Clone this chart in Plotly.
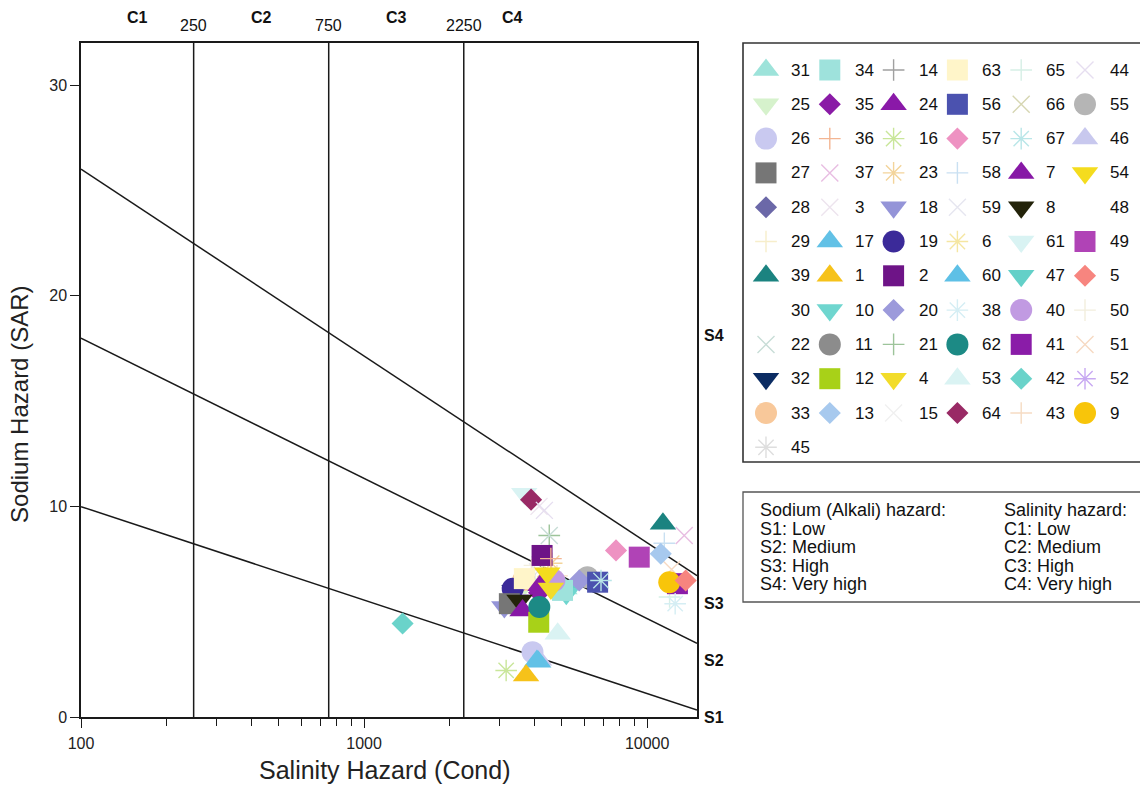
import math
import plotly.graph_objects as go

# ---------------------------------------------------------------- data
# Samples in drawing order (back to front)
sample_id = [30, 48, 3, 15, 59, 66, 14, 29, 50, 43,
             6, 23, 45, 25, 33, 32, 11, 28, 35, 52,
             31, 47, 10, 51, 65, 58, 61, 64, 44, 21,
             22, 2, 36, 19, 63, 55, 20, 56, 67, 34,
             40, 24, 54, 4, 18, 27, 8, 7, 12, 62,
             53, 26, 46, 60, 17, 16, 1, 42, 39, 37,
             57, 49, 13, 41, 9, 5, 38]

# Electrical conductivity (uS/cm)
ec = [4300, 4600, 4150, 4400, 4100, 4300, 4000, 3900, 4000, 4800,
      4350, 4600, 4250, 3700, 3650, 3400, 3350, 3300, 4150, 3500,
      5100, 5150, 5180, 12200, 12000, 11500, 3680, 3890, 4335, 4510,
      4510, 4254, 4570, 3350, 3683, 6150, 5754, 6683, 6870, 5024,
      4700, 4200, 4436, 4570, 3130, 3260, 3540, 3630, 4140, 4160,
      4830, 3935, 4150, 4120, 4080, 3176, 3734, 1368, 11370, 13520,
      7762, 9376, 11170, 12790, 11970, 13680, 12560]

# Sodium adsorption ratio
sar = [6.0, 6.2, 10.0, 6.7, 6.9, 6.1, 6.3, 7.0, 7.2, 6.7,
       7.0, 7.3, 7.6, 6.3, 6.5, 6.0, 5.5, 5.6, 5.9, 5.8,
       6.1, 6.0, 5.85, 7.0, 5.7, 8.25, 10.6, 10.32, 9.81, 8.62,
       8.62, 7.67, 7.52, 6.09, 6.57, 6.64, 6.48, 6.40, 6.48, 6.01,
       6.48, 6.25, 6.82, 6.10, 5.22, 5.38, 5.53, 5.06, 4.50, 5.22,
       3.95, 3.08, 2.72, 2.62, 2.66, 2.21, 1.97, 4.44, 9.18, 8.62,
       7.91, 7.59, 7.75, 6.33, 6.40, 6.48, 5.38]

# Key entries, read row by row (6 per row)
legend_order = [31, 34, 14, 63, 65, 44,
                25, 35, 24, 56, 66, 55,
                26, 36, 16, 57, 67, 46,
                27, 37, 23, 58, 7, 54,
                28, 3, 18, 59, 8, 48,
                29, 17, 19, 6, 61, 49,
                39, 1, 2, 60, 47, 5,
                30, 10, 20, 38, 40, 50,
                22, 11, 21, 62, 41, 51,
                32, 12, 4, 53, 42, 52,
                33, 13, 15, 64, 43, 9,
                45]

# USSL sodium-hazard boundaries: SAR = a - b*log10(EC)
s_intercept = [18.87, 31.31, 43.75]
s_slope = [4.44, 6.66, 8.87]
# Salinity-hazard class limits
c_limits = [250, 750, 2250]
c_labels = ["C1", "C2", "C3", "C4"]
s_labels = ["S1", "S2", "S3", "S4"]
s_label_sar = [0.0, 2.7, 5.4, 18.1]
ec_min, ec_max = 100, 15000
sar_max = 32

# ---------------------------------------------------------------- styles
TRANSPARENT = "rgba(255,255,255,0)"
style = {
    1: ("triangle-up", "#F6C21A"), 2: ("square", "#6E1487"),
    3: ("x-thin", "#EDE4EE"), 4: ("triangle-down", "#F2DC2A"),
    5: ("diamond", "#F7857F"), 6: ("asterisk", "#F5E6A2"),
    7: ("triangle-up", "#8718A6"), 8: ("triangle-down", "#23230A"),
    9: ("circle", "#F8C50A"), 10: ("triangle-down", "#6FD6CF"),
    11: ("circle", "#8C8C8C"), 12: ("square", "#A8D118"),
    13: ("diamond", "#A7C9EE"), 14: ("cross-thin", "#A0A0A0"),
    15: ("x-thin", "#F0F0F0"), 16: ("asterisk", "#C9E69A"),
    17: ("triangle-up", "#62C1E6"), 18: ("triangle-down", "#9494D8"),
    19: ("circle", "#3B2A99"), 20: ("diamond", "#9C9ADB"),
    21: ("cross-thin", "#9DC49A"), 22: ("x-thin", "#C8DDD7"),
    23: ("asterisk", "#F3D49A"), 24: ("triangle-up", "#8A19A8"),
    25: ("triangle-down", "#D6F2CC"), 26: ("circle", "#C9C9F0"),
    27: ("square", "#767676"), 28: ("diamond", "#6B68A8"),
    29: ("cross-thin", "#F7EECB"), 30: ("circle", TRANSPARENT),
    31: ("triangle-up", "#9DE3DA"), 32: ("triangle-down", "#0B2C63"),
    33: ("circle", "#F8C89A"), 34: ("square", "#9EE2DC"),
    35: ("diamond", "#8A1BA6"), 36: ("cross-thin", "#F3B592"),
    37: ("x-thin", "#E8BDE2"), 38: ("asterisk", "#D5EEF4"),
    39: ("triangle-up", "#1B8380"), 40: ("circle", "#C19AE2"),
    41: ("square", "#8A1CA8"), 42: ("diamond", "#6AD3CA"),
    43: ("cross-thin", "#F6DCC3"), 44: ("x-thin", "#E6DEF0"),
    45: ("asterisk", "#DEDEDE"), 46: ("triangle-up", "#C8C8EE"),
    47: ("triangle-down", "#63D0C8"), 48: ("circle", TRANSPARENT),
    49: ("square", "#B043B6"), 50: ("cross-thin", "#F2EEDD"),
    51: ("x-thin", "#F6D9C2"), 52: ("asterisk", "#C8A9F2"),
    53: ("triangle-up", "#DAF3F3"), 54: ("triangle-down", "#F4DC1E"),
    55: ("circle", "#B5B5B5"), 56: ("square", "#4B52AF"),
    57: ("diamond", "#EE92C2"), 58: ("cross-thin", "#C9E0F2"),
    59: ("x-thin", "#E6E6F0"), 60: ("triangle-up", "#5EC0E6"),
    61: ("triangle-down", "#D9F3F3"), 62: ("circle", "#1C8A85"),
    63: ("square", "#FFF5C9"), 64: ("diamond", "#992A65"),
    65: ("cross-thin", "#D6EFE6"), 66: ("x-thin", "#D6D6B2"),
    67: ("asterisk", "#B9E6E8"),
}
SIZE = {"square": 21, "circle": 22, "triangle-up": 23, "triangle-down": 23,
        "diamond": 17, "cross-thin": 15.5, "x-thin": 17, "asterisk": 18}
LINE_SYMBOLS = {"cross-thin", "x-thin", "asterisk"}

FONT = "Liberation Sans, Arial, sans-serif"
INK = "#1a1a1a"


def marker_props(ids):
    symbols = [style[i][0] for i in ids]
    colors = [style[i][1] for i in ids]
    return dict(
        symbol=symbols,
        color=colors,
        size=[SIZE[s] for s in symbols],
        line=dict(color=colors,
                  width=[1.4 if s in LINE_SYMBOLS else 0 for s in symbols]),
        opacity=1,
    )


fig = go.Figure()

# class boundaries
for a, b in zip(s_intercept, s_slope):
    xs = [ec_min, ec_max]
    fig.add_trace(go.Scatter(x=xs, y=[a - b * math.log10(v) for v in xs],
                             mode="lines", line=dict(color=INK, width=1.5),
                             hoverinfo="skip", showlegend=False))
for c in c_limits:
    fig.add_trace(go.Scatter(x=[c, c], y=[0, sar_max], mode="lines",
                             line=dict(color=INK, width=1.5),
                             hoverinfo="skip", showlegend=False))

# samples
fig.add_trace(go.Scatter(x=ec, y=sar, mode="markers", marker=marker_props(sample_id),
                         text=[str(i) for i in sample_id], showlegend=False,
                         hovertemplate="Sample %{text}<br>EC %{x}<br>SAR %{y}<extra></extra>"))

# ---------------------------------------------------------------- key panel
KEY_X0, KEY_DX = 766, 63.8
KEY_Y0, KEY_DY = 70, 34.3
NCOL = 6
key_x = [KEY_X0 + KEY_DX * (k % NCOL) for k in range(len(legend_order))]
key_y = [KEY_Y0 + KEY_DY * (k // NCOL) for k in range(len(legend_order))]
fig.add_trace(go.Scatter(x=key_x, y=key_y, mode="markers", xaxis="x2", yaxis="y2",
                         marker=marker_props(legend_order), hoverinfo="skip",
                         showlegend=False, cliponaxis=False))

annotations = []
for sid, kx, ky in zip(legend_order, key_x, key_y):
    annotations.append(dict(xref="x2", yref="y2", x=kx + 23, y=ky, text=str(sid),
                            xanchor="left", yanchor="middle", showarrow=False,
                            font=dict(family=FONT, size=17, color="#111")))

hazard_left = ["Sodium (Alkali) hazard:", "S1: Low", "S2: Medium", "S3: High", "S4: Very high"]
hazard_right = ["Salinity hazard:", "C1: Low", "C2: Medium", "C3: High", "C4: Very high"]
for k, (tl, tr) in enumerate(zip(hazard_left, hazard_right)):
    yy = 510 + 18.6 * k
    annotations.append(dict(xref="x2", yref="y2", x=758, y=yy, text=tl, xanchor="left",
                            yanchor="middle", showarrow=False,
                            font=dict(family=FONT, size=18, color="#111")))
    annotations.append(dict(xref="x2", yref="y2", x=1002, y=yy, text=tr, xanchor="left",
                            yanchor="middle", showarrow=False,
                            font=dict(family=FONT, size=18, color="#111")))

shapes = [
    dict(type="rect", xref="x2", yref="y2", x0=743, x1=1160, y0=43, y1=462,
         line=dict(color="#333", width=1.6)),
    dict(type="rect", xref="x2", yref="y2", x0=743, x1=1160, y0=492, y1=602,
         line=dict(color="#555", width=1.3)),
]

# ---------------------------------------------------------------- diagram labels
bounds = [ec_min] + c_limits + [5000]
for k, lab in enumerate(c_labels):
    mid = 0.5 * (math.log10(bounds[k]) + math.log10(bounds[k + 1]))
    annotations.append(dict(xref="x", yref="y domain", x=mid, y=1, yshift=25,
                            xanchor="center", yanchor="middle",
                            text="<b>%s</b>" % lab, showarrow=False,
                            font=dict(family=FONT, size=16, color="#111")))
for c in c_limits:
    annotations.append(dict(xref="x", yref="y domain", x=math.log10(c), y=1, yshift=17,
                            xanchor="center", yanchor="middle",
                            text=str(c), showarrow=False,
                            font=dict(family=FONT, size=16, color="#111")))
for lab, yv in zip(s_labels, s_label_sar):
    annotations.append(dict(xref="x domain", yref="y", x=1, y=yv, xanchor="left",
                            yanchor="middle", xshift=5, text="<b>%s</b>" % lab,
                            showarrow=False,
                            font=dict(family=FONT, size=16, color="#111")))

annotations.append(dict(xref="x domain", yref="y domain", x=0.4935, y=0, yshift=-53,
                        xanchor="center", yanchor="middle",
                        text="Salinity Hazard (Cond)", showarrow=False,
                        font=dict(family=FONT, size=25, color="#222")))
annotations.append(dict(xref="x domain", yref="y domain", x=0, xshift=-61, y=0.463,
                        xanchor="center", yanchor="middle",
                        text="Sodium Hazard (SAR)", textangle=-90, showarrow=False,
                        font=dict(family=FONT, size=24, color="#222")))

minor_vals = [m * 10 ** d for d in (2, 3) for m in range(2, 10)]

fig.update_layout(
    width=1140, height=787,
    margin=dict(l=81, r=0, t=30, b=70),
    paper_bgcolor="white", plot_bgcolor="white",
    showlegend=False,
    xaxis=dict(type="log", range=[math.log10(ec_min), math.log10(ec_max)],
               domain=[0, 616 / 1059], showgrid=False, zeroline=False,
               showline=True, mirror=True, linecolor=INK, linewidth=1.5,
               ticks="outside", ticklen=9, tickwidth=1.2, tickcolor=INK,
               tickvals=[100, 1000, 10000], ticktext=["100", "1000", "10000"],
               ticklabelstandoff=2,
               minor=dict(tickvals=minor_vals, ticks="outside", ticklen=7,
                          tickwidth=1.1, tickcolor=INK, showgrid=False),
               tickfont=dict(family=FONT, size=16, color="#222")),
    yaxis=dict(range=[0, sar_max], domain=[0, 674 / 687], showgrid=False,
               zeroline=False, showline=True, mirror=True, linecolor=INK,
               linewidth=1.5, ticks="outside", ticklen=9, tickwidth=1.2,
               tickcolor=INK, tickvals=[0, 10, 20, 30],
               tickfont=dict(family=FONT, size=16, color="#222")),
    xaxis2=dict(domain=[(735 - 81) / 1059, 1], range=[735, 1140], visible=False,
                anchor="y2", fixedrange=True),
    yaxis2=dict(domain=[0, 1], range=[717, 30], visible=False, anchor="x2",
                fixedrange=True),
    annotations=annotations,
    shapes=shapes,
)

fig.write_html("out.html")
